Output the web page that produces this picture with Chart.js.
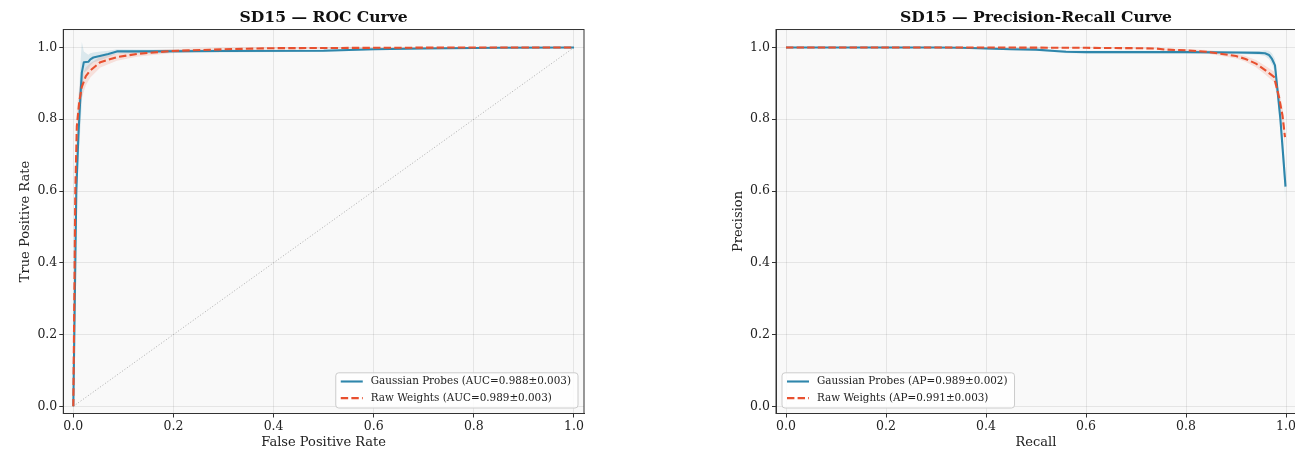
<!DOCTYPE html>
<html><head><meta charset="utf-8">
<script src="https://cdn.jsdelivr.net/npm/chart.js@4/dist/chart.umd.min.js"></script>
<style>
html,body{margin:0;padding:0;background:#fff;overflow:hidden;width:1295px;height:450px;position:relative;}
canvas{position:absolute;top:0;}
</style></head><body>
<canvas id="roc" width="650" height="450" style="left:0"></canvas>
<canvas id="pr" width="700" height="450" style="left:650px"></canvas>
<script>
// ---------- DATA ----------
const tickVals = [0, 0.2, 0.4, 0.6, 0.8, 1.0];

// ROC — Gaussian Probes
const rocG_fpr = [0, 0.003, 0.006, 0.01, 0.014, 0.017, 0.021, 0.03, 0.034, 0.04, 0.055, 0.07, 0.087, 0.15, 0.3, 0.5, 0.6, 0.7, 0.85, 1.0];
const rocG_tpr = [0, 0.3, 0.6, 0.75, 0.86, 0.93, 0.959, 0.96, 0.967, 0.972, 0.977, 0.982, 0.989, 0.989, 0.99, 0.991, 0.995, 0.997, 0.999, 1.0];
const rocG_sd  = [0, 0.04, 0.06, 0.07, 0.09, 0.085, 0.03, 0.02, 0.017, 0.014, 0.012, 0.009, 0.006, 0.005, 0.004, 0.003, 0.003, 0.002, 0.001, 0];
// ROC — Raw Weights
const rocR_fpr = [0, 0.002, 0.004, 0.007, 0.012, 0.017, 0.025, 0.034, 0.054, 0.087, 0.127, 0.194, 0.3, 0.4, 0.6, 0.8, 1.0];
const rocR_tpr = [0, 0.3, 0.6, 0.78, 0.85, 0.89, 0.92, 0.936, 0.959, 0.973, 0.982, 0.99, 0.995, 0.998, 0.999, 1.0, 1.0];
const rocR_sd  = [0, 0.04, 0.05, 0.05, 0.04, 0.03, 0.025, 0.02, 0.015, 0.01, 0.008, 0.006, 0.004, 0.003, 0.002, 0.001, 0];
// chance diagonal
const diagX = [0, 1];
const diagY = [0, 1];

// PR — Gaussian Probes
const prG_rec  = [0, 0.1, 0.2, 0.3, 0.35, 0.4, 0.45, 0.5, 0.53, 0.56, 0.6, 0.7, 0.8, 0.9, 0.946, 0.958, 0.966, 0.972, 0.978, 0.989, 0.999];
const prG_prec = [1.0, 1.0, 1.0, 1.0, 0.999, 0.997, 0.995, 0.994, 0.991, 0.988, 0.987, 0.987, 0.987, 0.986, 0.985, 0.984, 0.979, 0.968, 0.95, 0.797, 0.612];
const prG_sd   = [0, 0.0005, 0.001, 0.001, 0.002, 0.002, 0.003, 0.003, 0.003, 0.004, 0.004, 0.004, 0.004, 0.004, 0.005, 0.008, 0.012, 0.015, 0.018, 0.03, 0.04];
// PR — Raw Weights
const prR_rec  = [0, 0.2, 0.4, 0.6, 0.7, 0.74, 0.76, 0.8, 0.84, 0.872, 0.9, 0.919, 0.94, 0.959, 0.976, 0.986, 0.993, 0.998];
const prR_prec = [1.0, 1.0, 1.0, 0.999, 0.998, 0.997, 0.994, 0.992, 0.988, 0.982, 0.976, 0.968, 0.955, 0.936, 0.918, 0.862, 0.81, 0.75];
const prR_sd   = [0, 0, 0.001, 0.001, 0.002, 0.002, 0.003, 0.004, 0.005, 0.006, 0.007, 0.008, 0.01, 0.012, 0.015, 0.02, 0.024, 0.027];

const labelsROC = ['Gaussian Probes (AUC=0.988±0.003)', 'Raw Weights (AUC=0.989±0.003)'];
const labelsPR  = ['Gaussian Probes (AP=0.989±0.002)', 'Raw Weights (AP=0.991±0.003)'];

// ---------- STYLE ----------
const FONT = "'DejaVu Serif', serif";
const BLUE = '#2E86AB', RED = '#E8502F';
const BLUE_BAND = 'rgba(46,134,171,0.15)', RED_BAND = 'rgba(232,80,47,0.15)';

function pts(xs, ys){ return xs.map((x,i)=>({x:x, y:ys[i]})); }
function band(xs, ys, sd, s){ return xs.map((x,i)=>({x:x, y:ys[i] + s*sd[i]})); }

function datasets(gx, gy, gsd, rx, ry, rsd, withDiag){
  const base = {pointRadius:0, tension:0, borderJoinStyle:'round'};
  return [
    Object.assign({}, base, {label:'rLine', data:pts(rx,ry), borderColor:RED, borderWidth:2.1, borderDash:[7.4,3.2], fill:false, order:0}),
    Object.assign({}, base, {label:'gLine', data:pts(gx,gy), borderColor:BLUE, borderWidth:2.1, fill:false, order:1}),
    Object.assign({}, base, {label:'diag', data: withDiag ? pts(diagX,diagY) : [], borderColor:'#999', borderWidth:0.8, borderDash:[1,2], fill:false, order:2}),
    Object.assign({}, base, {label:'gUp', data:band(gx,gy,gsd,1), borderWidth:0, borderColor:'rgba(0,0,0,0)', backgroundColor:BLUE_BAND, fill:4, order:3}),
    Object.assign({}, base, {label:'gLo', data:band(gx,gy,gsd,-1), borderWidth:0, borderColor:'rgba(0,0,0,0)', fill:false, order:4}),
    Object.assign({}, base, {label:'rUp', data:band(rx,ry,rsd,1), borderWidth:0, borderColor:'rgba(0,0,0,0)', backgroundColor:RED_BAND, fill:6, order:5}),
    Object.assign({}, base, {label:'rLo', data:band(rx,ry,rsd,-1), borderWidth:0, borderColor:'rgba(0,0,0,0)', fill:false, order:6})
  ];
}

function axis(pos, text, isY){
  return {
    type:'linear', position:pos,
    min:-0.02, max: isY ? 1.05 : 1.02,
    afterBuildTicks: s => { s.ticks = tickVals.map(v=>({value:v})); },
    afterFit: s => { if (isY) s.width = 63; else s.height = 36.5; },
    ticks:{ callback: v => Number(v).toFixed(1), font:{family:FONT, size:12.5}, color:'#222', padding:2, autoSkip:false, maxRotation:0 },
    grid:{ color:'rgba(0,0,0,0.08)', lineWidth:1, tickLength:4, tickColor:'#333', tickWidth:1 },
    border:{ display:true, color:'#333', width:1 },
    title:{ display:true, text:text, font:{family:FONT, size:13}, color:'#222', padding: isY ? {top:17.5, bottom:0} : {top:0, bottom:0} }
  };
}

const framePlugin = {
  id:'frame',
  beforeDraw(chart){
    const {ctx, chartArea:a} = chart;
    ctx.save(); ctx.fillStyle = '#f9f9f9';
    ctx.fillRect(a.left, a.top, a.right-a.left, a.bottom-a.top); ctx.restore();
  },
  afterDatasetsDraw(chart){
    const {ctx, chartArea:a} = chart;
    ctx.save(); ctx.strokeStyle = '#333'; ctx.lineWidth = 1;
    ctx.strokeRect(a.left, a.top, a.right-a.left, a.bottom-a.top); ctx.restore();
  }
};

const legendPlugin = {
  id:'boxLegend',
  afterDraw(chart, args, opts){
    const {ctx, chartArea:a} = chart;
    ctx.save();
    ctx.font = '10.4px ' + FONT;
    const items = [{t:opts.labels[0], c:BLUE, d:[]}, {t:opts.labels[1], c:RED, d:[7.4,3.2]}];
    const tw = Math.max.apply(null, items.map(i=>ctx.measureText(i.t).width));
    const rowH = 16.6;
    const w = 35 + tw + 7, h = rowH*2 + 2;
    const x0 = opts.corner === 'right' ? a.right - 6 - w : a.left + 6;
    const y0 = a.bottom - 5.5 - h;
    ctx.beginPath();
    ctx.roundRect(x0, y0, w, h, 3);
    ctx.fillStyle = 'rgba(255,255,255,0.85)'; ctx.fill();
    ctx.strokeStyle = '#cccccc'; ctx.lineWidth = 1; ctx.stroke();
    items.forEach((it, k) => {
      const cy = y0 + 8.7 + k*rowH;
      ctx.beginPath(); ctx.setLineDash(it.d); ctx.strokeStyle = it.c; ctx.lineWidth = 2.1;
      ctx.moveTo(x0+5, cy); ctx.lineTo(x0+27, cy); ctx.stroke();
      ctx.setLineDash([]);
      ctx.fillStyle = '#222'; ctx.textBaseline = 'middle'; ctx.textAlign = 'left';
      ctx.fillText(it.t, x0+35, cy);
    });
    ctx.restore();
  }
};

function makeChart(id, title, xTitle, yTitle, ds, pad, labels, corner){
  return new Chart(document.getElementById(id), {
    type:'line',
    data:{ datasets: ds },
    options:{
      responsive:false, animation:false, events:[],
      layout:{ padding: pad },
      scales:{ x: axis('bottom', xTitle, false), y: axis('left', yTitle, true) },
      plugins:{
        legend:{ display:false }, tooltip:{ enabled:false },
        title:{ display:true, text:title, fullSize:false, color:'#111',
                font:{family:FONT, size:15.6, weight:'bold'}, padding:{top:8.1, bottom:2.7} },
        boxLegend:{ labels: labels, corner: corner }
      }
    },
    plugins:[framePlugin, legendPlugin]
  });
}

makeChart('roc', 'SD15 — ROC Curve', 'False Positive Rate', 'True Positive Rate',
  datasets(rocG_fpr, rocG_tpr, rocG_sd, rocR_fpr, rocR_tpr, rocR_sd, true),
  {left:0.3, right:66, top:0, bottom:0}, labelsROC, 'right');
makeChart('pr', 'SD15 — Precision-Recall Curve', 'Recall', 'Precision',
  datasets(prG_rec, prG_prec, prG_sd, prR_rec, prR_prec, prR_sd, false),
  {left:63, right:54, top:0, bottom:0}, labelsPR, 'left');
</script>
</body></html>
